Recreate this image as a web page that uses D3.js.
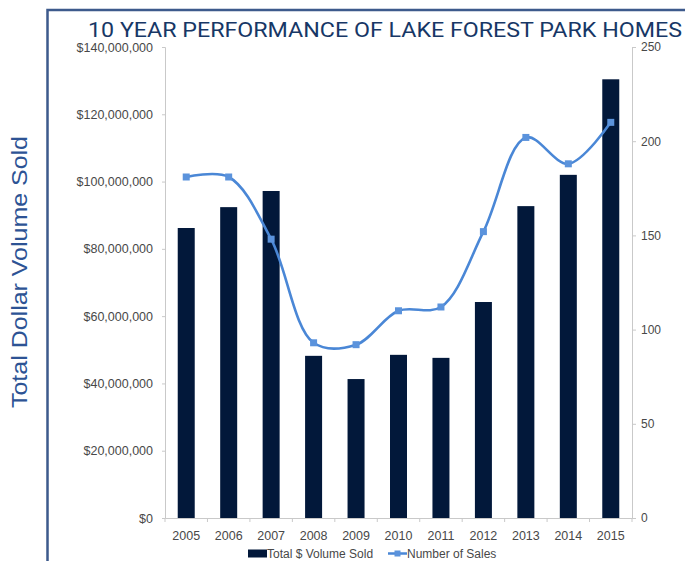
<!DOCTYPE html>
<html>
<head>
<meta charset="utf-8">
<script src="https://cdn.jsdelivr.net/npm/d3@7"></script>
<style>
  body { margin: 0; background: #fff; }
  svg { display: block; }
</style>
</head>
<body>
<div id="chart"></div>
<script>
'use strict';
// values
const years = ["2005", "2006", "2007", "2008", "2009", "2010", "2011", "2012", "2013", "2014", "2015"];
const volumeSold = [86200000, 92400000, 97200000, 48200000, 41300000, 48500000, 47600000, 64200000, 92700000, 102000000, 130400000];
const numberOfSales = [181, 181, 148, 93, 92, 110, 112, 152, 202, 188, 210];
const leftTicks = [0, 20000000, 40000000, 60000000, 80000000, 100000000, 120000000, 140000000];
const rightTicks = [0, 50, 100, 150, 200, 250];

const width = 685, height = 561;
const plot = { left: 165, right: 632, top: 47, bottom: 518 };

const svg = d3.select("#chart").append("svg")
  .attr("width", width)
  .attr("height", height);

// frame round the chart
svg.append("path")
  .attr("d", "M47.5,561 L47.5,10 L690,10")
  .attr("fill", "none")
  .attr("stroke", "#3d5a8c")
  .attr("stroke-width", 2.5);

svg.append("text")
  .attr("x", 385)
  .attr("y", 37)
  .attr("text-anchor", "middle")
  .attr("font-family", "Roboto, 'Open Sans', sans-serif")
  .attr("font-weight", 400)
  .attr("font-size", 21)
  .attr("textLength", 594)
  .attr("lengthAdjust", "spacingAndGlyphs")
  .attr("fill", "#173766")
  .text("10 YEAR PERFORMANCE OF LAKE FOREST PARK HOMES");

svg.append("text")
  .attr("transform", "translate(27,272) rotate(-90)")
  .attr("text-anchor", "middle")
  .attr("font-family", "'Liberation Sans', Arial, sans-serif")
  .attr("font-size", 22)
  .attr("textLength", 272)
  .attr("lengthAdjust", "spacingAndGlyphs")
  .attr("fill", "#2d5394")
  .text("Total Dollar Volume Sold");

let x = d3.scaleBand()
  .domain(years)
  .range([plot.left, plot.right]);

let yLeft = d3.scaleLinear()
  .domain([0, 140000000])
  .range([plot.bottom, plot.top]);

let yRight = d3.scaleLinear()
  .domain([0, 250])
  .range([plot.bottom, plot.top]);

const axisFont = "'Liberation Sans', Arial, sans-serif";
const tickColor = "#484848";
const lineColor = "#c9c9c9";

// left axis
let leftAxis = svg.append("g")
  .attr("transform", "translate(" + plot.left + ",0)")
  .call(d3.axisLeft(yLeft)
    .tickValues(leftTicks)
    .tickSize(3)
    .tickPadding(9)
    .tickFormat(function (d) { return "$" + d3.format(",")(d); }));
leftAxis.select(".domain").attr("stroke", lineColor);
leftAxis.selectAll(".tick line").attr("stroke", lineColor);
leftAxis.selectAll("text")
  .attr("font-family", axisFont)
  .attr("font-size", 12.5)
  .attr("fill", tickColor);

// right axis
let rightAxis = svg.append("g")
  .attr("transform", "translate(" + plot.right + ",0)")
  .call(d3.axisRight(yRight)
    .tickValues(rightTicks)
    .tickSize(4)
    .tickPadding(5));
rightAxis.select(".domain").attr("stroke", lineColor);
rightAxis.selectAll(".tick line").attr("stroke", lineColor);
rightAxis.selectAll("text")
  .attr("font-family", axisFont)
  .attr("font-size", 12)
  .attr("fill", tickColor);

// bottom axis, ticks sit between the categories
let bottomAxis = svg.append("g")
  .attr("transform", "translate(0," + plot.bottom + ")")
  .call(d3.axisBottom(x).tickSize(0).tickPadding(13));
bottomAxis.select(".domain").attr("stroke", lineColor);
bottomAxis.selectAll("text")
  .attr("font-family", axisFont)
  .attr("font-size", 12.5)
  .attr("fill", tickColor);
bottomAxis.selectAll(".sep")
  .data(years.concat(["end"]))
  .enter().append("line")
  .attr("class", "sep")
  .attr("x1", function (d, i) { return plot.left + i * x.step(); })
  .attr("x2", function (d, i) { return plot.left + i * x.step(); })
  .attr("y1", 0)
  .attr("y2", 4)
  .attr("stroke", lineColor);

// bars
const barWidth = 17;
svg.append("g")
  .selectAll("rect")
  .data(volumeSold)
  .enter().append("rect")
  .attr("x", function (d, i) { return x(years[i]) + x.bandwidth() / 2 - barWidth / 2; })
  .attr("y", function (d) { return yLeft(d); })
  .attr("width", barWidth)
  .attr("height", function (d) { return plot.bottom - yLeft(d); })
  .attr("fill", "#02183a");

// number of sales line
const lineBlue = "#4a87d6";
let line = d3.line()
  .x(function (d, i) { return x(years[i]) + x.bandwidth() / 2; })
  .y(function (d) { return yRight(d); })
  .curve(d3.curveCatmullRom.alpha(0.5));

svg.append("path")
  .datum(numberOfSales)
  .attr("d", line)
  .attr("fill", "none")
  .attr("stroke", lineBlue)
  .attr("stroke-width", 2.6);

svg.append("g")
  .selectAll("rect")
  .data(numberOfSales)
  .enter().append("rect")
  .attr("x", function (d, i) { return x(years[i]) + x.bandwidth() / 2 - 3.5; })
  .attr("y", function (d) { return yRight(d) - 3.5; })
  .attr("width", 7)
  .attr("height", 7)
  .attr("fill", "#5b93dc");

// legend
let legend = svg.append("g")
  .attr("font-family", axisFont)
  .attr("font-size", 12)
  .attr("fill", tickColor);
legend.append("rect")
  .attr("x", 248).attr("y", 549.5)
  .attr("width", 19).attr("height", 8)
  .attr("fill", "#02183a");
legend.append("text")
  .attr("x", 267).attr("y", 558)
  .text("Total $ Volume Sold");
legend.append("line")
  .attr("x1", 388).attr("x2", 407)
  .attr("y1", 553.5).attr("y2", 553.5)
  .attr("stroke", lineBlue)
  .attr("stroke-width", 2.5);
legend.append("rect")
  .attr("x", 394.5).attr("y", 550.5)
  .attr("width", 6).attr("height", 6)
  .attr("fill", "#5b93dc");
legend.append("text")
  .attr("x", 407).attr("y", 558)
  .text("Number of Sales");
</script>
</body>
</html>
